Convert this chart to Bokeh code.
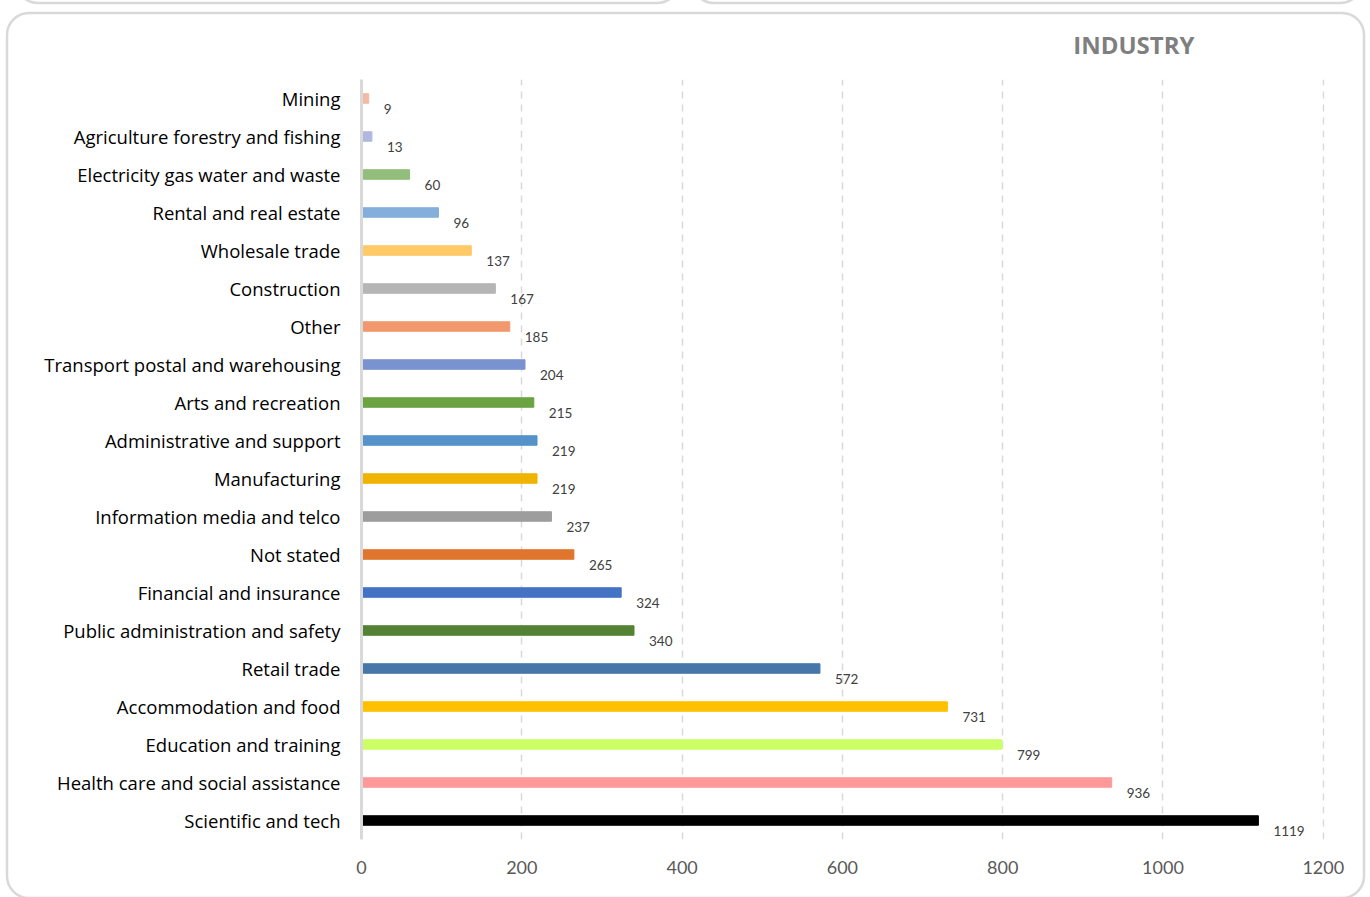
from bokeh.plotting import figure
from bokeh.models import ColumnDataSource, FactorRange, Range1d
from bokeh.core.properties import value
from bokeh.embed import file_html
from bokeh.resources import INLINE

# Industry counts, listed top to bottom as shown
industries = [
    "Mining",
    "Agriculture forestry and fishing",
    "Electricity gas water and waste",
    "Rental and real estate",
    "Wholesale trade",
    "Construction",
    "Other",
    "Transport postal and warehousing",
    "Arts and recreation",
    "Administrative and support",
    "Manufacturing",
    "Information media and telco",
    "Not stated",
    "Financial and insurance",
    "Public administration and safety",
    "Retail trade",
    "Accommodation and food",
    "Education and training",
    "Health care and social assistance",
    "Scientific and tech",
]
counts = [9, 13, 60, 96, 137, 167, 185, 204, 215, 219, 219, 237, 265, 324, 340, 572, 731, 799, 936, 1119]
bar_colors = [
    "#F4B9A4", "#AFB9E0", "#92BD7A", "#84AEDB", "#FFC966",
    "#B5B5B5", "#F1986E", "#7A93D0", "#6BA343", "#5592CA",
    "#F0B400", "#9D9D9D", "#E0752D", "#4472C4", "#548235",
    "#4677A8", "#FFC000", "#CCFF66", "#FF9999", "#000000",
]
x_ticks = [0, 200, 400, 600, 800, 1000, 1200]

source = ColumnDataSource(dict(
    industry=industries,
    count=counts,
    color=bar_colors,
    label=[str(c) for c in counts],
))

# rounded card outlines painted behind the (transparent) canvas
cards_svg = (
    "<svg xmlns='http://www.w3.org/2000/svg' width='1370' height='897'>"
    "<g fill='none' stroke='%23D9D9D9' stroke-width='2.5'>"
    "<rect x='7' y='13' width='1357' height='885' rx='22' ry='22'/>"
    "<rect x='16' y='-40' width='663' height='43' rx='22' ry='22'/>"
    "<rect x='692' y='-40' width='670' height='43' rx='22' ry='22'/>"
    "</g></svg>"
)

p = figure(
    width=1370, height=897,
    y_range=FactorRange(factors=industries[::-1], range_padding=0),
    x_range=Range1d(0, 1201.5),
    output_backend="svg", toolbar_location=None,
    min_border_left=361, min_border_right=46,
    min_border_top=79, min_border_bottom=58,
    styles={
        "background-color": "white",
        "background-image": f'url("data:image/svg+xml;utf8,{cards_svg}")',
        "background-repeat": "no-repeat",
        "background-position": "0 0",
    },
)
p.outline_line_color = None
p.background_fill_color = None
p.border_fill_color = None

# title
p.title.text = "INDUSTRY"
p.title.align = "right"
p.title.offset = 130
p.title.standoff = 38
p.title.text_font = "Open Sans"
p.title.text_font_style = "bold"
p.title.text_font_size = "24px"
p.title.text_color = "#7F7F7F"

p.hbar(y="industry", right="count", left=0, height=0.25, color="color", source=source)

p.text(x="count", y="industry", text="label", source=source,
       x_offset=15, y_offset=10, text_baseline="middle", text_align="left",
       text_font_size="13.5px", text_color="#404040", text_font=value("Lato"))

# axes
p.xaxis.ticker = x_ticks
p.xaxis.axis_line_color = None
p.xaxis.major_tick_line_color = None
p.xaxis.minor_tick_line_color = None
p.xaxis.major_label_text_font = "Lato"
p.xaxis.major_label_text_font_size = "18px"
p.xaxis.major_label_text_color = "#595959"
p.xaxis.major_label_standoff = 15

p.yaxis.axis_line_color = "#D9D9D9"
p.yaxis.axis_line_width = 3
p.yaxis.major_tick_line_color = None
p.yaxis.minor_tick_line_color = None
p.yaxis.major_label_text_font = "Open Sans"
p.yaxis.major_label_text_font_size = "18.5px"
p.yaxis.major_label_text_color = "#000000"
p.yaxis.major_label_standoff = 15

p.ygrid.grid_line_color = None
p.xgrid.grid_line_color = "#D9D9D9"
p.xgrid.grid_line_width = 1.5
p.xgrid.grid_line_dash = "7 6"

open("out.html", "w").write(file_html(p, INLINE))
